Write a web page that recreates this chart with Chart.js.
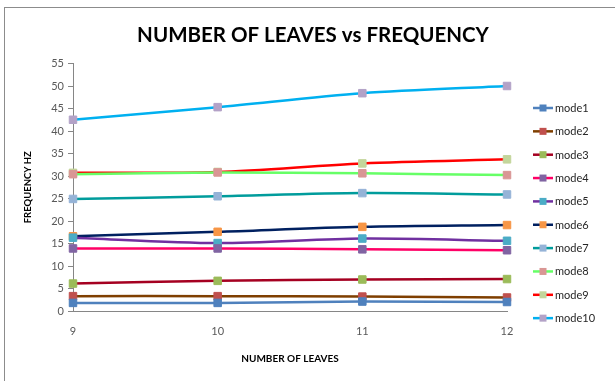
<!DOCTYPE html>
<html>
<head>
<meta charset="utf-8">
<script src="https://cdn.jsdelivr.net/npm/chart.js@4.4.1/dist/chart.umd.min.js"></script>
<style>
  html, body { margin: 0; padding: 0; background: #fff; }
  #wrap { position: relative; width: 615px; height: 381px; overflow: hidden; }
  #frame { position: absolute; left: 4px; top: 7px; width: 700px; height: 500px; border: 1px solid #8c8c8c; box-sizing: border-box; pointer-events: none; }
  canvas { position: absolute; left: 0; top: 0; }
</style>
</head>
<body>
<div id="wrap">
  <canvas id="c" width="615" height="381"></canvas>
  <div id="frame"></div>
</div>
<script>
// Number of leaves on the x axis
const leaves = ['9', '10', '11', '12'];

// Natural frequency (Hz) of each mode
const mode1  = [1.8, 1.8, 2.1, 2.0];
const mode2  = [3.3, 3.3, 3.2, 3.0];
const mode3  = [6.1, 6.7, 7.0, 7.1];
const mode4  = [13.9, 13.9, 13.7, 13.5];
const mode5  = [16.3, 15.1, 16.1, 15.6];
const mode6  = [16.6, 17.6, 18.7, 19.1];
const mode7  = [24.9, 25.5, 26.2, 25.9];
const mode8  = [30.4, 30.8, 30.6, 30.2];
const mode9  = [30.7, 30.9, 32.8, 33.7];
const mode10 = [42.5, 45.3, 48.4, 50.0];

const seriesNames = ['mode1', 'mode2', 'mode3', 'mode4', 'mode5', 'mode6', 'mode7', 'mode8', 'mode9', 'mode10'];
const seriesValues = [mode1, mode2, mode3, mode4, mode5, mode6, mode7, mode8, mode9, mode10];

// line colour / marker colour per series
const lineColors   = ['#4F81BD', '#7F3F00', '#A50021', '#FF0066', '#7030A0', '#002060', '#009C9C', '#66FF66', '#FF0000', '#00B0F0'];
const markerColors = ['#4F81BD', '#C0504D', '#9BBB59', '#8064A2', '#4BACC6', '#F79646', '#95B3D7', '#D99694', '#C3D69B', '#B3A2C7'];

const yTicks = { min: 0, max: 55, step: 5 };

const chartTitle = 'NUMBER OF LEAVES vs FREQUENCY';

const FONT = 'Lato, "Open Sans", "DejaVu Sans", sans-serif';

const datasets = seriesNames.map((name, i) => ({
  label: name,
  data: seriesValues[i],
  borderColor: lineColors[i],
  backgroundColor: markerColors[i],
  borderWidth: 2.5,
  tension: 0.3,
  pointStyle: 'rect',
  pointRadius: 5.3,
  pointBorderWidth: 1,
  pointBackgroundColor: markerColors[i],
  pointBorderColor: markerColors[i],
  fill: false
}));

// Title centred across the whole chart frame
const frameTitle = {
  id: 'frameTitle',
  afterDraw(chart) {
    const ctx = chart.ctx;
    ctx.save();
    ctx.font = 'bold 20.5px ' + FONT;
    ctx.fillStyle = '#000';
    ctx.textAlign = 'center';
    ctx.textBaseline = 'middle';
    ctx.fillText(chartTitle, 313, 35);
    ctx.restore();
  }
};

// Legend drawn at the right: a short line segment with the marker in its middle
const sideLegend = {
  id: 'sideLegend',
  afterDraw(chart) {
    const ctx = chart.ctx;
    const x0 = 533, x1 = 553, top = 108, gap = 23.35;
    ctx.save();
    ctx.font = '11px ' + FONT;
    ctx.textBaseline = 'middle';
    ctx.textAlign = 'left';
    chart.data.datasets.forEach((ds, i) => {
      const y = top + i * gap;
      ctx.strokeStyle = ds.borderColor;
      ctx.lineWidth = 2.5;
      ctx.beginPath();
      ctx.moveTo(x0, y);
      ctx.lineTo(x1, y);
      ctx.stroke();
      ctx.fillStyle = ds.pointBackgroundColor;
      ctx.fillRect((x0 + x1) / 2 - 3.5, y - 3.5, 7, 7);
      ctx.fillStyle = '#262626';
      ctx.fillText(ds.label, x1 + 2, y + 0.5);
    });
    ctx.restore();
  }
};

new Chart(document.getElementById('c'), {
  type: 'line',
  data: { labels: leaves, datasets },
  options: {
    responsive: false,
    animation: false,
    devicePixelRatio: 1,
    layout: { padding: { left: 0, right: 108, top: 63.5, bottom: 0 } },
    plugins: {
      legend: { display: false },
      tooltip: { enabled: false },
      title: { display: false }
    },
    scales: {
      x: {
        offset: false,
        grid: { display: true, drawOnChartArea: false, drawTicks: false, color: '#868686' },
        border: { color: '#868686', width: 1 },
        ticks: { color: '#595959', font: { family: FONT, size: 11 }, padding: 14, maxRotation: 0 },
        title: {
          display: true,
          text: 'NUMBER OF LEAVES',
          color: '#000',
          font: { family: FONT, size: 10, weight: 'bold' },
          padding: { top: 0, bottom: 16 }
        },
        afterFit(scale) { scale.height = 70; }
      },
      y: {
        min: yTicks.min,
        max: yTicks.max,
        grid: { display: true, drawOnChartArea: false, drawTicks: true, tickLength: 5, color: '#868686' },
        border: { color: '#868686', width: 1 },
        ticks: { stepSize: yTicks.step, color: '#595959', font: { family: FONT, size: 11 }, padding: 4 },
        title: {
          display: true,
          text: 'FREQUENCY HZ',
          color: '#000',
          font: { family: FONT, size: 9.5, weight: 'bold' },
          padding: { top: 22, bottom: 0 }
        },
        afterFit(scale) { scale.width = 73; }
      }
    }
  },
  plugins: [frameTitle, sideLegend]
});
</script>
</body>
</html>
